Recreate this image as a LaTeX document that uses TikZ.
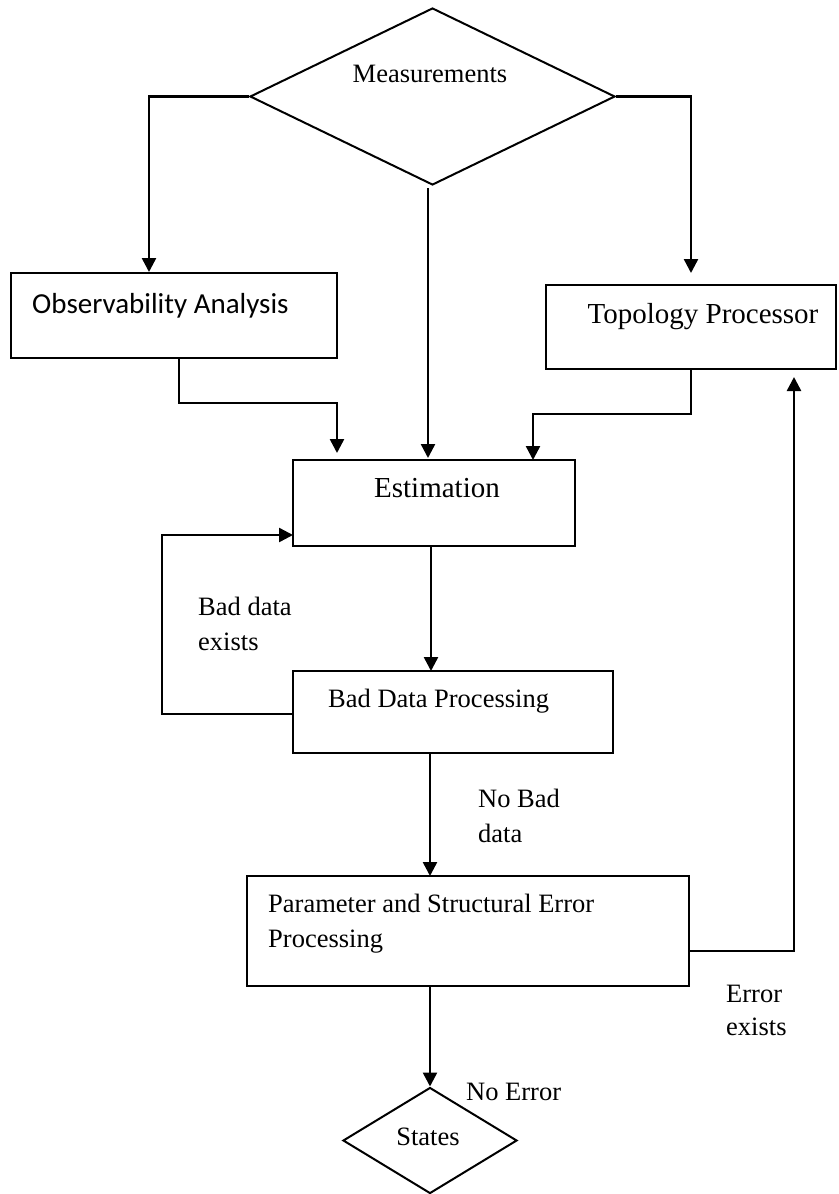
\documentclass[tikz,border=0pt]{standalone}
\usepackage{fontspec}
\setmainfont{Liberation Serif}
\newfontfamily\calibri{Carlito}
\usetikzlibrary{shapes.geometric,arrows.meta}
\begin{document}
\begin{tikzpicture}[x=1pt,y=-1pt,
  box/.style={draw, rectangle, inner sep=0pt, line width=2pt},
  dia/.style={draw, diamond, inner sep=0pt, line width=2pt},
  arr/.style={line width=2.5pt, -{Triangle[length=14pt,width=14pt]}},
  txt/.style={inner sep=0pt, font=\fontsize{26.5}{35}\selectfont},
  big/.style={inner sep=0pt, font=\fontsize{29}{35}\selectfont}]
\useasboundingbox (0,0) rectangle (838,1194);

% nodes
\node[dia, minimum width=365pt, minimum height=177pt] (meas) at (432.5,96.5) {};
\node[txt, anchor=base] (meast) at (430,82) {Measurements};

\node[box, minimum width=326pt, minimum height=85pt] (obs) at (174,315.5) {};
\node[inner sep=0pt, anchor=base west, font=\calibri\fontsize{29}{35}\selectfont] (obst) at (32,313) {Observability Analysis};

\node[box, minimum width=290pt, minimum height=84pt] (topo) at (691,327) {};
\node[big, anchor=base] (topot) at (703,323) {Topology Processor};

\node[box, minimum width=282pt, minimum height=86pt] (est) at (434,503) {};
\node[big, anchor=base] (estt) at (437,497) {Estimation};

\node[box, minimum width=320pt, minimum height=82pt] (bdp) at (453,712) {};
\node[txt, anchor=base west] (bdpt) at (328,707) {Bad Data Processing};

\node[box, minimum width=442pt, minimum height=110pt] (par) at (468,931) {};
\node[txt, anchor=base west] (part1) at (268,912) {Parameter and Structural Error};
\node[txt, anchor=base west] (part2) at (268,947) {Processing};

\node[dia, minimum width=174pt, minimum height=106pt] (states) at (430,1140.5) {};
\node[txt, anchor=base] (statest) at (428,1145) {States};

% edge labels
\node[txt, anchor=base west] (bad1) at (198,615) {Bad data};
\node[txt, anchor=base west] (bad2) at (198,650) {exists};
\node[txt, anchor=base west] (nob1) at (478,807) {No Bad};
\node[txt, anchor=base west] (nob2) at (478,842) {data};
\node[txt, anchor=base west] (err1) at (726,1002) {Error};
\node[txt, anchor=base west] (err2) at (726,1035) {exists};
\node[txt, anchor=base west] (noerr) at (466,1100) {No Error};

% helper coordinates
\coordinate (obsin) at (149,272);
\coordinate (topoin) at (691,273);
\coordinate (mtop) at (428,188);
\coordinate (mbot) at (428,458);
\coordinate (obsout) at (179,358);
\coordinate (obsbend) at (179,403);
\coordinate (estinL) at (337,453);
\coordinate (topoout) at (691,369);
\coordinate (topobend) at (691,414);
\coordinate (estinR) at (533,460);
\coordinate (estout) at (431,546);
\coordinate (bdpin) at (431,671);
\coordinate (bdpL) at (293,714);
\coordinate (loopB) at (162,714);
\coordinate (loopT) at (162,535);
\coordinate (estL) at (293,535);
\coordinate (bdpout) at (430,753);
\coordinate (parin) at (430,876);
\coordinate (parR) at (689,951);
\coordinate (errc) at (794,951);
\coordinate (topoback) at (794,377);
\coordinate (parout) at (430,986);

% connectors
\draw[arr] (meas.west) -| (obsin);
\draw[arr] (meas.east) -| (topoin);
\draw[arr] (mtop) -- (mbot);
\draw[arr] (obsout) -- (obsbend) -| (estinL);
\draw[arr] (topoout) -- (topobend) -| (estinR);
\draw[arr] (estout) -- (bdpin);
\draw[arr] (bdpL) -- (loopB) -- (loopT) -- (estL);
\draw[arr] (bdpout) -- (parin);
\draw[arr] (parR) -- (errc) -- (topoback);
\draw[arr] (parout) -- (states.north);
\end{tikzpicture}
\end{document}
